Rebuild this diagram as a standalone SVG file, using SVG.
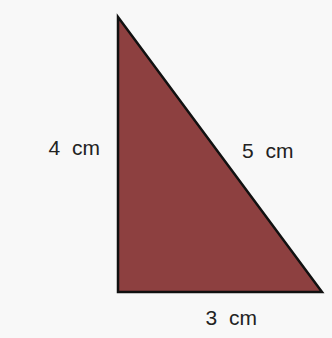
<svg xmlns="http://www.w3.org/2000/svg" width="332" height="338" viewBox="0 0 332 338">
<style>
.lbl{font-family:"Liberation Sans",Arial,sans-serif;font-size:21px;fill:#222;word-spacing:6px}
</style>
<rect width="332" height="338" fill="#f8f8f8"/>
<g id="triangle">
<polygon points="118,17 118,292 322,292" fill="#8d4040" stroke="#111" stroke-width="2.5" stroke-linejoin="miter"/>
</g>
<g id="labels">
<text class="lbl" x="48.5" y="154.5">4 cm</text>
<text class="lbl" x="242" y="157.5">5 cm</text>
<text class="lbl" x="205.5" y="324.5">3 cm</text>
</g>
</svg>
